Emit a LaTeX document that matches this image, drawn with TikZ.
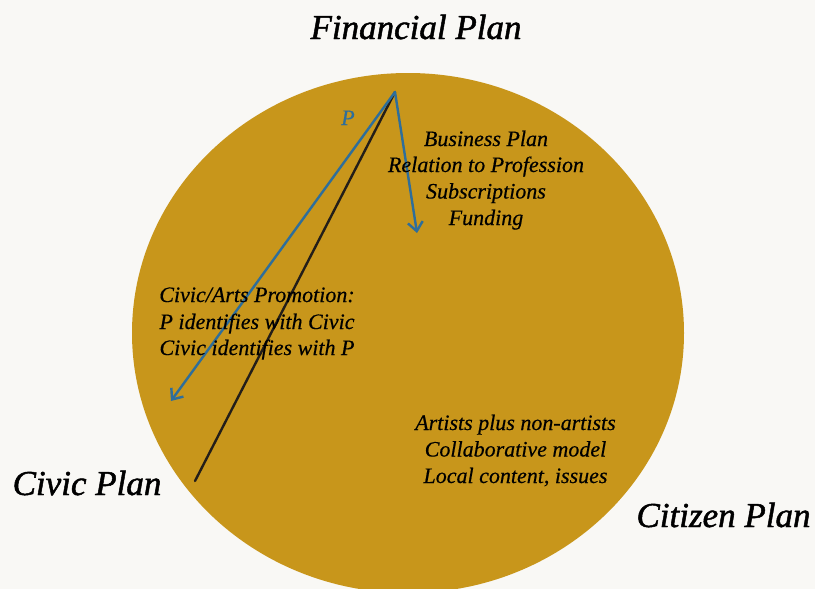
\documentclass[tikz,border=0pt]{standalone}
\usepackage{fontspec}
\setmainfont{Liberation Serif}
\newfontface\titleface{Liberation Serif Italic}[FakeBold=1.4]
\newfontface\bodyface{Liberation Serif Italic}[FakeBold=0.4]
\usetikzlibrary{arrows.meta}
\definecolor{paper}{RGB}{249,248,245}
\definecolor{gold}{RGB}{200,150,27}
\definecolor{planblue}{RGB}{46,110,155}
\definecolor{inkline}{RGB}{35,30,25}
\begin{document}
\begin{tikzpicture}[x=1pt,y=-1pt,
  title/.style={anchor=base,inner sep=0pt,font=\titleface\fontsize{35}{40}\selectfont},
  body/.style={anchor=base,inner sep=0pt,font=\bodyface\fontsize{22}{26}\selectfont},
  barb/.style={-{Straight Barb[length=9pt,width=15pt]}},
  link/.style={line width=2.4pt,line cap=round}]
\useasboundingbox (0,0) rectangle (815,589);
\fill[paper] (0,0) rectangle (815,589);
\clip (0,0) rectangle (815,589);
% the shared plan disc
\fill[gold] (408,333) ellipse [x radius=276, y radius=260];

% connectors from the financial apex
\coordinate (apex) at (395,92);
\coordinate (civicend) at (171,401);
\coordinate (bizend) at (417,233);
\coordinate (splitend) at (195,481);
\draw[link,inkline] (apex) -- (splitend);
\draw[link,planblue,barb] (apex) -- (civicend);
\draw[link,planblue,barb] (apex) -- (bizend);
\node[body,text=planblue] (plabel) at (348,125) {P};

% corner titles
\node[title] (financial) at (416,39) {Financial Plan};
\node[title] (civic) at (87,495) {Civic Plan};
\node[title] (citizen) at (723.5,527) {Citizen Plan};

% financial block
\node[body] (fin1) at (486,146) {Business Plan};
\node[body] (fin2) at (486,172) {Relation to Profession};
\node[body] (fin3) at (486,198.5) {Subscriptions};
\node[body] (fin4) at (486,225) {Funding};

% civic block
\node[body] (civ1) at (257,302) {Civic/Arts Promotion:};
\node[body] (civ2) at (257,329) {P identifies with Civic};
\node[body] (civ3) at (257,355) {Civic identifies with P};

% citizen block
\node[body] (cit1) at (515.5,430) {Artists plus non-artists};
\node[body] (cit2) at (515.5,456.5) {Collaborative model};
\node[body] (cit3) at (515.5,483) {Local content, issues};
\end{tikzpicture}
\end{document}
